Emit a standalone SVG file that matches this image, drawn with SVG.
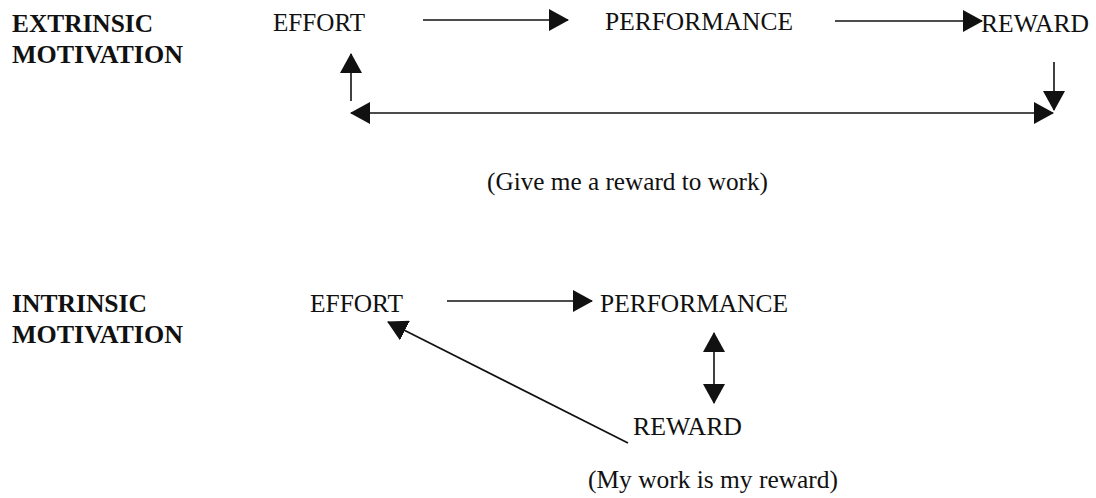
<svg xmlns="http://www.w3.org/2000/svg" width="1096" height="498" viewBox="0 0 1096 498">
<style>
text{font-family:"Liberation Serif","Times New Roman",serif;fill:#111;}
.h{font-size:25px;font-weight:bold;}
.n{font-size:25px;}
.c{fill:none;stroke:#111;stroke-width:1.6;}
</style>
<defs>
<marker id="ah" viewBox="0 0 20 22" refX="19" refY="11" markerWidth="20" markerHeight="22" markerUnits="userSpaceOnUse" orient="auto-start-reverse">
<path d="M0,0 L20,11 L0,22 Z" fill="#111"/>
</marker>
</defs>
<rect width="1096" height="498" fill="#fff"/>
<g id="extrinsic-label"><text class="h" x="12" y="32" textLength="141" lengthAdjust="spacingAndGlyphs">EXTRINSIC</text><text class="h" x="12" y="63" textLength="171" lengthAdjust="spacingAndGlyphs">MOTIVATION</text></g>
<g id="ext-effort"><text class="n" x="273" y="31" textLength="92" lengthAdjust="spacingAndGlyphs">EFFORT</text></g>
<g id="ext-performance"><text class="n" x="605" y="30" textLength="188" lengthAdjust="spacingAndGlyphs">PERFORMANCE</text></g>
<g id="ext-reward"><text class="n" x="981" y="32" textLength="108" lengthAdjust="spacingAndGlyphs">REWARD</text></g>
<g id="ext-caption"><text class="n" x="487" y="190" textLength="281" lengthAdjust="spacingAndGlyphs">(Give me a reward to work)</text></g>
<g id="intrinsic-label"><text class="h" x="12" y="312" textLength="135" lengthAdjust="spacingAndGlyphs">INTRINSIC</text><text class="h" x="12" y="343" textLength="171" lengthAdjust="spacingAndGlyphs">MOTIVATION</text></g>
<g id="int-effort"><text class="n" x="310" y="312" textLength="93" lengthAdjust="spacingAndGlyphs">EFFORT</text></g>
<g id="int-performance"><text class="n" x="600" y="312" textLength="188" lengthAdjust="spacingAndGlyphs">PERFORMANCE</text></g>
<g id="int-reward"><text class="n" x="633" y="435" textLength="109" lengthAdjust="spacingAndGlyphs">REWARD</text></g>
<g id="int-caption"><text class="n" x="588" y="488" textLength="250" lengthAdjust="spacingAndGlyphs">(My work is my reward)</text></g>
<g id="connectors">
<line class="c" x1="423" y1="20" x2="568" y2="20" marker-end="url(#ah)"/>
<line class="c" x1="835" y1="21" x2="982" y2="21" marker-end="url(#ah)"/>
<line class="c" x1="351" y1="101" x2="351" y2="54" marker-end="url(#ah)"/>
<line class="c" x1="351" y1="113" x2="1053" y2="113" marker-start="url(#ah)" marker-end="url(#ah)"/>
<line class="c" x1="1054" y1="62" x2="1054" y2="110" marker-end="url(#ah)"/>
<line class="c" x1="447" y1="301" x2="592" y2="301" marker-end="url(#ah)"/>
<line class="c" x1="714" y1="333" x2="714" y2="403" marker-start="url(#ah)" marker-end="url(#ah)"/>
<line class="c" x1="628" y1="443" x2="388" y2="322" marker-end="url(#ah)"/>
</g>
</svg>
